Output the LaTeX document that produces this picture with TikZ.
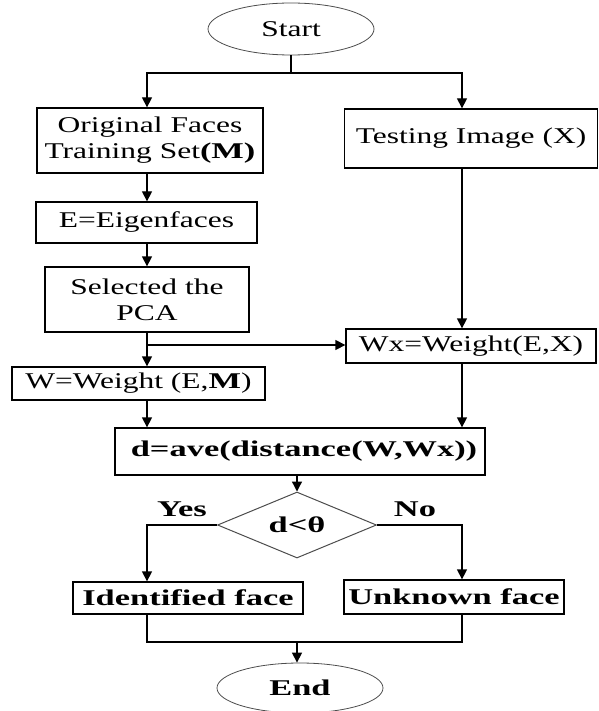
\documentclass[tikz,border=0pt]{standalone}
\usepackage{fontspec}
\setmainfont{Liberation Serif}[FakeStretch=1.4]
\newfontfamily\widebf{Liberation Serif}[FakeStretch=1.53]
\usetikzlibrary{arrows.meta,positioning,shapes.geometric}

\begin{document}
\begin{tikzpicture}[x=1pt,y=-1pt,
		font=\fontsize{22.5}{26}\selectfont,
		box/.style={draw,line width=1.3pt,rectangle,inner sep=0pt,align=center},
		term/.style={draw=black!70,line width=0.8pt,ellipse,inner sep=0pt},
		decision/.style={draw=black!70,line width=1pt,diamond,aspect=2.4,inner sep=0pt},
		arr/.style={line width=1.3pt,-{Triangle[width=10pt,length=10pt]}},
		link/.style={line width=1.3pt},
		heavy/.style={font=\fontsize{22.5}{26}\selectfont\widebf\bfseries}]
		\useasboundingbox (0,0) rectangle (598,711);

		% columns of the two branches
		\coordinate (lcol) at (147,0);
		\coordinate (rcol) at (462,0);

		% Terminals
		\node[term,minimum width=166pt,minimum height=52pt] (start) at (291,29) {Start};
		\node[term,heavy,minimum width=166pt,minimum height=50pt] (end) at (300,688) {End};

		% Training branch
		\node[box,minimum width=226pt,minimum height=65pt] (orig) at (150,140.5) {Original Faces\\Training Set{\widebf\bfseries(M)}};
		\node[box,minimum width=221pt,minimum height=41pt] (eig) at (146.5,222.5) {E=Eigenfaces};
		\node[box,minimum width=204pt,minimum height=65pt] (pca) at (147,299.5) {Selected the\\PCA};
		\node[box,minimum width=253pt,minimum height=33pt] (wm) at (138.5,383.5) {W=Weight (E,{\widebf\bfseries M})};

		% Testing branch
		\node[box,minimum width=253pt,minimum height=59pt] (test) at (471,138.5) {Testing Image (X)};
		\node[box,minimum width=250pt,minimum height=34pt] (wx) at (471,346) {Wx=Weight(E,X)};

		% Decision part
		\node[box,heavy,minimum width=370pt,minimum height=47pt] (dist) at (300,451.5) {\hspace{8pt}d=ave(distance(W,Wx))};
		\node[decision,heavy,minimum width=159pt,minimum height=66pt] (dec) at (297,525) {d<θ};
		\node[heavy] (yes) at (182,509) {Yes};
		\node[heavy] (no) at (415,509) {No};
		\node[box,heavy,minimum width=230pt,minimum height=32pt] (ident) at (188,598) {Identified face};
		\node[box,heavy,minimum width=220pt,minimum height=34pt] (unk) at (454,597) {Unknown face};

		\coordinate (split) at (291,73);
		\coordinate (tap) at (147,345);
		\coordinate (merge) at (297,642);

		% Connectors
		\draw[link] (start.south) -- (split);
		\draw[arr] (split) -| (orig.north -| lcol);
		\draw[arr] (split) -| (test.north -| rcol);
		\draw[arr] (orig.south -| lcol) -- (eig.north -| lcol);
		\draw[arr] (eig.south -| lcol) -- (pca.north -| lcol);
		\draw[arr] (pca.south -| lcol) -- (wm.north -| lcol);
		\draw[arr] (tap) -- (tap -| wx.west);
		\draw[arr] (test.south -| rcol) -- (wx.north -| rcol);
		\draw[arr] (wm.south -| lcol) -- (dist.north -| lcol);
		\draw[arr] (wx.south -| rcol) -- (dist.north -| rcol);
		\draw[arr] (dist.south -| dec.north) -- (dec.north);
		\draw[arr] (dec.west) -| (ident.north -| lcol);
		\draw[arr] (dec.east) -| (unk.north -| rcol);
		\draw[link] (ident.south -| lcol) |- (merge);
		\draw[link] (unk.south -| rcol) |- (merge);
		\draw[arr] (merge) -- (merge |- end.north);
	\end{tikzpicture}
\end{document}
